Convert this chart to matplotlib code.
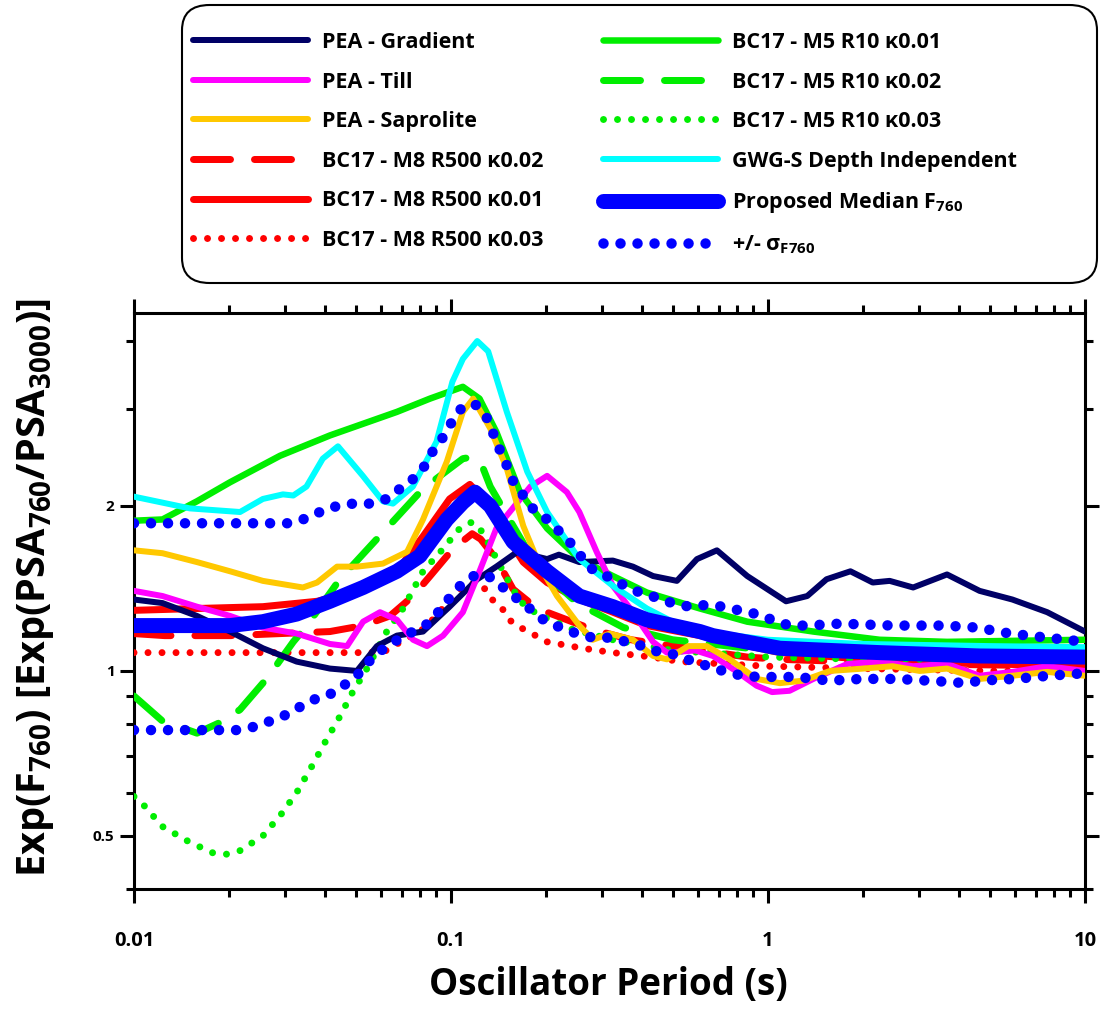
import matplotlib
matplotlib.use('Agg')
import matplotlib.pyplot as plt
from matplotlib.ticker import FixedLocator, NullFormatter, LogLocator
from matplotlib.patches import FancyBboxPatch

plt.rcParams['font.family'] = ['Open Sans', 'DejaVu Sans']
plt.rcParams['font.weight'] = 'bold'
plt.rcParams['mathtext.fontset'] = 'custom'
plt.rcParams['mathtext.rm'] = 'Open Sans:bold'
plt.rcParams['mathtext.bf'] = 'Open Sans:bold'
plt.rcParams['mathtext.it'] = 'Open Sans:bold'
plt.rcParams['mathtext.default'] = 'regular'

# ---------------- data (period s, amplification) ----------------
navy_T = [0.01, 0.0123, 0.0158, 0.0201, 0.0255, 0.0326, 0.0415, 0.0505, 0.0584, 0.0675, 0.0816, 0.099,
          0.121, 0.139, 0.162, 0.201, 0.219, 0.254, 0.324, 0.375, 0.434, 0.516, 0.597, 0.69, 0.86, 1.14,
          1.33, 1.53, 1.82, 2.14, 2.42, 2.87, 3.67, 4.65, 5.9, 7.6, 10.0]
navy_v = [1.35, 1.33, 1.26, 1.18, 1.10, 1.04, 1.01, 1.00, 1.11, 1.16, 1.18, 1.31,
          1.47, 1.55, 1.65, 1.60, 1.63, 1.58, 1.59, 1.55, 1.49, 1.46, 1.60, 1.66, 1.49, 1.34,
          1.37, 1.47, 1.52, 1.45, 1.46, 1.42, 1.50, 1.40, 1.35, 1.28, 1.18]

till_T = [0.01, 0.0123, 0.0158, 0.0201, 0.0255, 0.0326, 0.0415, 0.047, 0.0528, 0.0597, 0.0675, 0.0759,
          0.084, 0.0944, 0.109, 0.123, 0.139, 0.178, 0.201, 0.232, 0.254, 0.288, 0.324, 0.375, 0.434,
          0.48, 0.59, 0.67, 0.80, 0.92, 1.03, 1.17, 1.39, 1.78, 2.25, 2.87, 3.67, 4.65, 5.9, 7.6, 10.0]
till_v = [1.40, 1.37, 1.31, 1.26, 1.20, 1.17, 1.12, 1.11, 1.23, 1.28, 1.24, 1.14,
          1.11, 1.16, 1.28, 1.52, 1.82, 2.17, 2.27, 2.12, 1.95, 1.65, 1.43, 1.28, 1.13,
          1.08, 1.09, 1.065, 0.996, 0.94, 0.915, 0.92, 0.967, 1.03, 1.04, 1.02, 1.03, 0.98, 0.996, 1.02, 1.00]

sap_T = [0.01, 0.0123, 0.0158, 0.0201, 0.0255, 0.0341, 0.0378, 0.0437, 0.0505, 0.061, 0.0727, 0.0816,
         0.097, 0.109, 0.1175, 0.133, 0.150, 0.169, 0.191, 0.216, 0.254, 0.280, 0.317, 0.375, 0.434,
         0.48, 0.56, 0.64, 0.757, 0.92, 1.09, 1.29, 1.57, 2.0, 2.47, 3.01, 3.67, 4.65, 5.9, 7.6, 10.0]
sap_v = [1.66, 1.64, 1.58, 1.52, 1.46, 1.42, 1.45, 1.55, 1.55, 1.57, 1.65, 1.89,
         2.41, 2.97, 3.14, 2.77, 2.34, 1.84, 1.55, 1.37, 1.21, 1.14, 1.17, 1.14, 1.065,
         1.05, 1.11, 1.11, 1.05, 0.967, 0.95, 0.96, 1.00, 1.01, 1.02, 1.00, 1.01, 0.967, 0.98, 0.996, 0.98]

m8k02_T = [0.01, 0.0125, 0.0201, 0.0289, 0.0415, 0.0528, 0.0642, 0.0759, 0.0859, 0.1014, 0.1166, 0.124,
           0.139, 0.157, 0.187, 0.232, 0.28, 0.37, 0.86, 1.09, 3.0, 10.0]
m8k02_v = [1.17, 1.16, 1.16, 1.17, 1.18, 1.21, 1.26, 1.37, 1.49, 1.67, 1.78, 1.74,
           1.60, 1.41, 1.30, 1.24, 1.19, 1.14, 1.06, 1.05, 1.03, 1.02]

m8k01_T = [0.01, 0.0158, 0.0255, 0.0378, 0.0528, 0.0675, 0.0816, 0.099, 0.1147, 0.133, 0.150, 0.169,
           0.201, 0.254, 0.324, 0.415, 0.61, 1.09, 2.5, 10.0]
m8k01_v = [1.29, 1.30, 1.31, 1.34, 1.41, 1.52, 1.76, 2.06, 2.19, 2.00, 1.76, 1.58,
           1.45, 1.35, 1.28, 1.21, 1.16, 1.08, 1.04, 1.02]

m8k03_T = [0.01, 0.02, 0.03, 0.045, 0.055, 0.0627, 0.0675, 0.08, 0.09, 0.1, 0.11, 0.12, 0.126, 0.133,
           0.145, 0.155, 0.17, 0.185, 0.201, 0.219, 0.26, 0.324, 0.43, 0.53, 1.0, 2.0, 5.0, 10.0]
m8k03_v = [1.08, 1.08, 1.08, 1.08, 1.08, 1.09, 1.12, 1.18, 1.26, 1.36, 1.43, 1.45, 1.43, 1.36,
           1.30, 1.23, 1.19, 1.16, 1.13, 1.12, 1.10, 1.08, 1.06, 1.04, 1.02, 1.01, 1.00, 1.00]

m5k01_T = [0.01, 0.0123, 0.0158, 0.0201, 0.0289, 0.0415, 0.0675, 0.0858, 0.109, 0.123, 0.139, 0.165,
           0.201, 0.254, 0.324, 0.415, 0.61, 0.86, 1.39, 2.25, 3.67, 10.0]
m5k01_v = [1.88, 1.89, 2.04, 2.21, 2.47, 2.69, 2.97, 3.14, 3.30, 3.14, 2.73, 2.12,
           1.82, 1.60, 1.49, 1.39, 1.30, 1.23, 1.18, 1.14, 1.13, 1.14]

m5k02_T = [0.01, 0.0123, 0.0158, 0.0191, 0.0216, 0.0263, 0.0318, 0.0351, 0.0446, 0.061, 0.0816, 0.109,
           0.118, 0.126, 0.133, 0.157, 0.187, 0.25, 0.35, 0.5, 1.0, 2.0, 10.0]
m5k02_v = [0.90, 0.81, 0.77, 0.81, 0.85, 0.97, 1.13, 1.21, 1.47, 1.79, 2.15, 2.44,
           2.46, 2.35, 2.17, 1.84, 1.55, 1.33, 1.20, 1.14, 1.09, 1.07, 1.06]

m5k03_T = [0.01, 0.0107, 0.0123, 0.0147, 0.0176, 0.0196, 0.0216, 0.0255, 0.0293, 0.0326, 0.0364, 0.040,
           0.0443, 0.0487, 0.0543, 0.0627, 0.0706, 0.0816, 0.0935, 0.1066, 0.1166, 0.126, 0.145, 0.165,
           0.187, 0.242, 0.324, 0.5, 1.0, 2.0, 5.0, 10.0]
m5k03_v = [0.59, 0.57, 0.52, 0.49, 0.466, 0.463, 0.47, 0.50, 0.55, 0.60, 0.67, 0.74,
           0.82, 0.91, 1.01, 1.18, 1.30, 1.52, 1.66, 1.82, 1.87, 1.79, 1.53, 1.34,
           1.27, 1.19, 1.14, 1.09, 1.06, 1.05, 1.05, 1.05]

gwg_T = [0.01, 0.015, 0.0216, 0.0255, 0.0295, 0.0318, 0.035, 0.0394, 0.044, 0.0527, 0.061, 0.0656,
         0.0758, 0.090, 0.101, 0.109, 0.121, 0.131, 0.150, 0.174, 0.201, 0.254, 0.324, 0.415, 0.528,
         0.7, 1.0, 2.0, 5.0, 10.0]
gwg_v = [2.08, 1.98, 1.95, 2.06, 2.10, 2.09, 2.17, 2.44, 2.57, 2.27, 2.04, 2.02,
         2.17, 2.62, 3.37, 3.71, 4.00, 3.83, 2.97, 2.31, 1.95, 1.60, 1.43, 1.30, 1.21,
         1.17, 1.14, 1.12, 1.11, 1.105]

med_T = [0.01, 0.0201, 0.0255, 0.0326, 0.0415, 0.0528, 0.0675, 0.0797, 0.097, 0.109, 0.119, 0.133,
         0.157, 0.201, 0.254, 0.324, 0.415, 0.61, 0.67, 1.09, 2.25, 4.65, 10.0]
med_v = [1.21, 1.21, 1.23, 1.27, 1.34, 1.42, 1.52, 1.62, 1.89, 2.03, 2.12, 2.00,
         1.72, 1.52, 1.37, 1.31, 1.24, 1.18, 1.16, 1.10, 1.08, 1.065, 1.06]

up_T = [0.01, 0.02, 0.0304, 0.0341, 0.0386, 0.0437, 0.0491, 0.0555, 0.0627, 0.069, 0.0759, 0.0828,
        0.0877, 0.0944, 0.1007, 0.108, 0.119, 0.130, 0.136, 0.143, 0.150, 0.157, 0.169, 0.181, 0.201,
        0.219, 0.241, 0.259, 0.280, 0.317, 0.354, 0.394, 0.447, 0.498, 0.565, 0.642, 0.721, 0.81, 0.92,
        1.03, 1.17, 1.33, 1.69, 2.47, 3.6, 4.56, 5.8, 7.6, 10.0]
up_v = [1.86, 1.86, 1.86, 1.89, 1.95, 2.00, 2.02, 2.02, 2.06, 2.15, 2.24, 2.37,
        2.52, 2.67, 2.85, 3.02, 3.07, 2.89, 2.71, 2.52, 2.37, 2.22, 2.09, 1.98, 1.89,
        1.80, 1.70, 1.61, 1.53, 1.48, 1.43, 1.39, 1.36, 1.33, 1.31, 1.32, 1.31, 1.29, 1.27,
        1.24, 1.21, 1.21, 1.22, 1.21, 1.21, 1.20, 1.17, 1.15, 1.13]

lo_T = [0.01, 0.0211, 0.0237, 0.0269, 0.0299, 0.0334, 0.0375, 0.0421, 0.047, 0.0513, 0.0559, 0.0615,
        0.0679, 0.0759, 0.0846, 0.0922, 0.099, 0.108, 0.120, 0.135, 0.148, 0.163, 0.180, 0.199, 0.222,
        0.249, 0.280, 0.317, 0.358, 0.403, 0.457, 0.516, 0.58, 0.65, 0.735, 0.83, 0.935, 1.07, 1.2,
        1.35, 1.55, 1.98, 2.53, 3.2, 3.7, 4.2, 4.67, 6.0, 7.7, 9.9]
lo_v = [0.78, 0.78, 0.79, 0.81, 0.83, 0.86, 0.89, 0.91, 0.95, 0.99, 1.05, 1.10,
        1.14, 1.18, 1.22, 1.29, 1.36, 1.44, 1.50, 1.48, 1.41, 1.35, 1.29, 1.23, 1.20,
        1.17, 1.15, 1.15, 1.13, 1.11, 1.08, 1.07, 1.04, 1.02, 0.996, 0.98, 0.975, 0.975, 0.975,
        0.97, 0.96, 0.967, 0.967, 0.96, 0.955, 0.95, 0.96, 0.967, 0.98, 0.99]

labels = ['PEA - Gradient', 'PEA - Till', 'PEA - Saprolite',
          'BC17 - M8 R500 κ0.02', 'BC17 - M8 R500 κ0.01', 'BC17 - M8 R500 κ0.03',
          'BC17 - M5 R10 κ0.01', 'BC17 - M5 R10 κ0.02', 'BC17 - M5 R10 κ0.03',
          'GWG-S Depth Independent', 'Proposed Median F$_{760}$', '+/- σ$_{F760}$']

x_ticks = [0.01, 0.1, 1, 10]
x_ticklabels = ['0.01', '0.1', '1', '10']
y_ticks = [0.5, 1, 2]
y_ticklabels = ['0.5', '1', '2']
y_minor = [0.4, 0.6, 0.7, 0.8, 0.9, 3, 4]

# ---------------- figure ----------------
W, H = 1105, 1009
fig = plt.figure(figsize=(W / 100, H / 100), dpi=100)
ax = fig.add_axes([134 / W, 1 - 889 / H, (1085 - 134) / W, (889 - 313) / H])
ax.set_xscale('log')
ax.set_yscale('log')

PX = 0.72  # points per pixel
RED, GREEN, NAVY = '#ff0000', '#00ee00', '#000066'
MAG, GOLD, CYAN, BLUE = '#ff00ff', '#ffc800', '#00ffff', '#0000ff'

def dash(lw_px, on_px, off_px):
    return (0, ((on_px - lw_px) / lw_px, (off_px + lw_px) / lw_px))

def dots(lw_px, spacing_px):
    return (0, (0.001, spacing_px / lw_px))

common = dict(solid_capstyle='round', dash_capstyle='round', solid_joinstyle='round',
              dash_joinstyle='round')

h = {}
h[3] = ax.plot(m8k02_T, m8k02_v, color=RED, lw=7 * PX, ls=dash(7, 44, 17), zorder=3, **common)[0]
h[5] = ax.plot(m8k03_T, m8k03_v, color=RED, lw=7 * PX, ls=dots(7, 14), zorder=3, **common)[0]
h[4] = ax.plot(m8k01_T, m8k01_v, color=RED, lw=7 * PX, zorder=3, **common)[0]
h[8] = ax.plot(m5k03_T, m5k03_v, color=GREEN, lw=7 * PX, ls=dots(7, 14), zorder=4, **common)[0]
h[7] = ax.plot(m5k02_T, m5k02_v, color=GREEN, lw=7 * PX, ls=dash(7, 44, 17), zorder=4, **common)[0]
h[6] = ax.plot(m5k01_T, m5k01_v, color=GREEN, lw=6.5 * PX, zorder=4, **common)[0]
h[0] = ax.plot(navy_T, navy_v, color=NAVY, lw=6 * PX, zorder=5, **common)[0]
h[1] = ax.plot(till_T, till_v, color=MAG, lw=6 * PX, zorder=5, **common)[0]
h[2] = ax.plot(sap_T, sap_v, color=GOLD, lw=6 * PX, zorder=5, **common)[0]
h[9] = ax.plot(gwg_T, gwg_v, color=CYAN, lw=6 * PX, zorder=6, **common)[0]
h[11] = ax.plot(up_T, up_v, color=BLUE, lw=10.5 * PX, ls=dots(10.5, 17), zorder=7, **common)[0]
ax.plot(lo_T, lo_v, color=BLUE, lw=10.5 * PX, ls=dots(10.5, 17), zorder=7, **common)
h[10] = ax.plot(med_T, med_v, color=BLUE, lw=15 * PX, zorder=8, **common)[0]

ax.set_xlim(0.01, 10)
ax.set_ylim(0.4, 4.5)

ax.xaxis.set_major_locator(FixedLocator(x_ticks))
ax.xaxis.set_ticklabels(x_ticklabels)
ax.xaxis.set_minor_locator(LogLocator(base=10, subs=range(2, 10)))
ax.xaxis.set_minor_formatter(NullFormatter())
ax.yaxis.set_major_locator(FixedLocator(y_ticks))
ax.yaxis.set_ticklabels(y_ticklabels)
ax.yaxis.set_minor_locator(FixedLocator(y_minor))
ax.yaxis.set_minor_formatter(NullFormatter())

ax.tick_params(which='both', direction='out', top=True, right=True, width=2.2, color='black')
ax.tick_params(which='major', length=10)
ax.tick_params(which='minor', length=6)
ax.tick_params(axis='x', which='major', labelsize=14.5, pad=20)
ax.tick_params(axis='y', which='major', labelsize=11, pad=4)
for lab in ax.get_xticklabels() + ax.get_yticklabels():
    lab.set_fontweight('bold')
for s in ax.spines.values():
    s.set_linewidth(2.2)

fig.text(608 / W, 1 - 985 / H, 'Oscillator Period (s)', ha='center', va='center',
         fontsize=26.5, fontweight='bold')
fig.text(36 / W, 1 - 588 / H, 'Exp(F$_{760}$) [Exp(PSA$_{760}$/PSA$_{3000}$)]', ha='center',
         va='center', rotation=90, fontsize=28.5, fontweight='bold')

# legend frame
box = FancyBboxPatch((182 / W, 1 - 283 / H), (1097 - 182) / W, (283 - 5) / H,
                     boxstyle='round,pad=0,rounding_size=0.025', transform=fig.transFigure,
                     facecolor='white', edgecolor='black', lw=1.5, zorder=0)
fig.patches.append(box)

leg_kw = dict(loc='upper left', frameon=False, fontsize=15.5, handlelength=5.35,
              handletextpad=0.65, labelspacing=0.86, borderpad=0, borderaxespad=0)
leg1 = fig.legend([h[i] for i in range(6)], labels[:6],
                  bbox_to_anchor=(193 / W, 1 - 32 / H), **leg_kw)
leg2 = fig.legend([h[i] for i in range(6, 12)], labels[6:],
                  bbox_to_anchor=(603 / W, 1 - 32 / H), **leg_kw)
for lg in (leg1, leg2):
    for t in lg.get_texts():
        t.set_fontweight('bold')

fig.savefig('out.png', dpi=100)
